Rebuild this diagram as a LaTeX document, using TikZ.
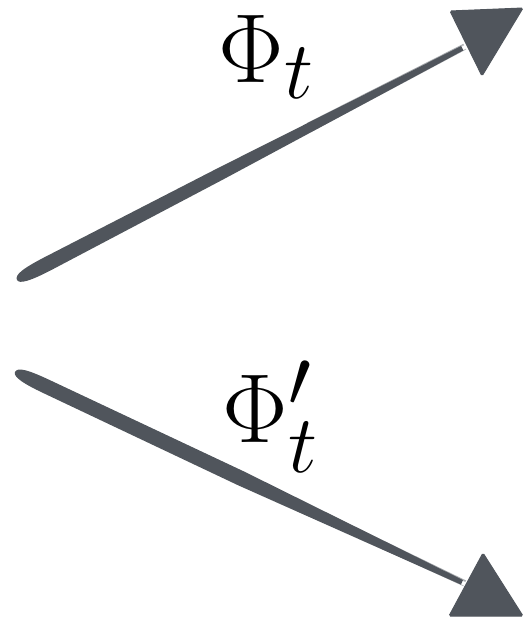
\documentclass[tikz,border=0pt]{standalone}
\usepackage{amsmath}
\usepackage{xcolor}
\usepackage{tikz}
\usetikzlibrary{calc}
\definecolor{ink}{RGB}{80,85,92}
\tikzset{
  brush/.style={fill=ink},
  streak/.style={draw=ink,line width=0.8pt},
  head/.style={fill=ink,draw=ink,line width=1pt,rounded corners=1.5pt},
  biglabel/.style={anchor=base west,inner sep=0pt,font=\Huge,scale=3.94}
}
\begin{document}
\begin{tikzpicture}[x=1pt,y=-1pt]
\useasboundingbox (0,0) rectangle (525,619);
\coordinate (s1) at (17,280);
\coordinate (s2) at (15,372);
% upper stroke
\begin{scope}[shift={(s1)},rotate=27.5]
\fill[brush] (0,0) .. controls (0,-6) and (12,-7.5) .. (35,-7.5) -- (230,-6.5) -- (502,-2.5) -- (502,2.5) -- (230,6) -- (35,7) .. controls (12,7) and (0,5) .. (0,0);
\foreach \dy/\op in {-5/0.5,-3.5/0.35,4.2/0.4}{
  \draw[streak,opacity=\op] (330,\dy) -- (505,0.6*\dy);
}
\end{scope}
\fill[head] (450,11) -- (523,8) -- (482,76) -- cycle;
% lower stroke
\begin{scope}[shift={(s2)},rotate=-25.2]
\fill[brush] (0,0) .. controls (0,-6) and (12,-7.5) .. (35,-7.5) -- (250,-7.5) -- (494,-2.5) -- (494,2.5) -- (250,7.5) -- (35,7) .. controls (12,7) and (0,5) .. (0,0);
\foreach \dy/\op in {-5/0.5,-3.5/0.35,4.2/0.4}{
  \draw[streak,opacity=\op] (320,\dy) -- (497,0.6*\dy);
}
\end{scope}
\fill[head] (483,553) -- (523,616) -- (449,616) -- cycle;
% labels
\node[biglabel] (phi) at (218,82) {$\Phi_t$};
\node[biglabel] (phiprime) at (222,442) {$\Phi'_t$};
\end{tikzpicture}
\end{document}
